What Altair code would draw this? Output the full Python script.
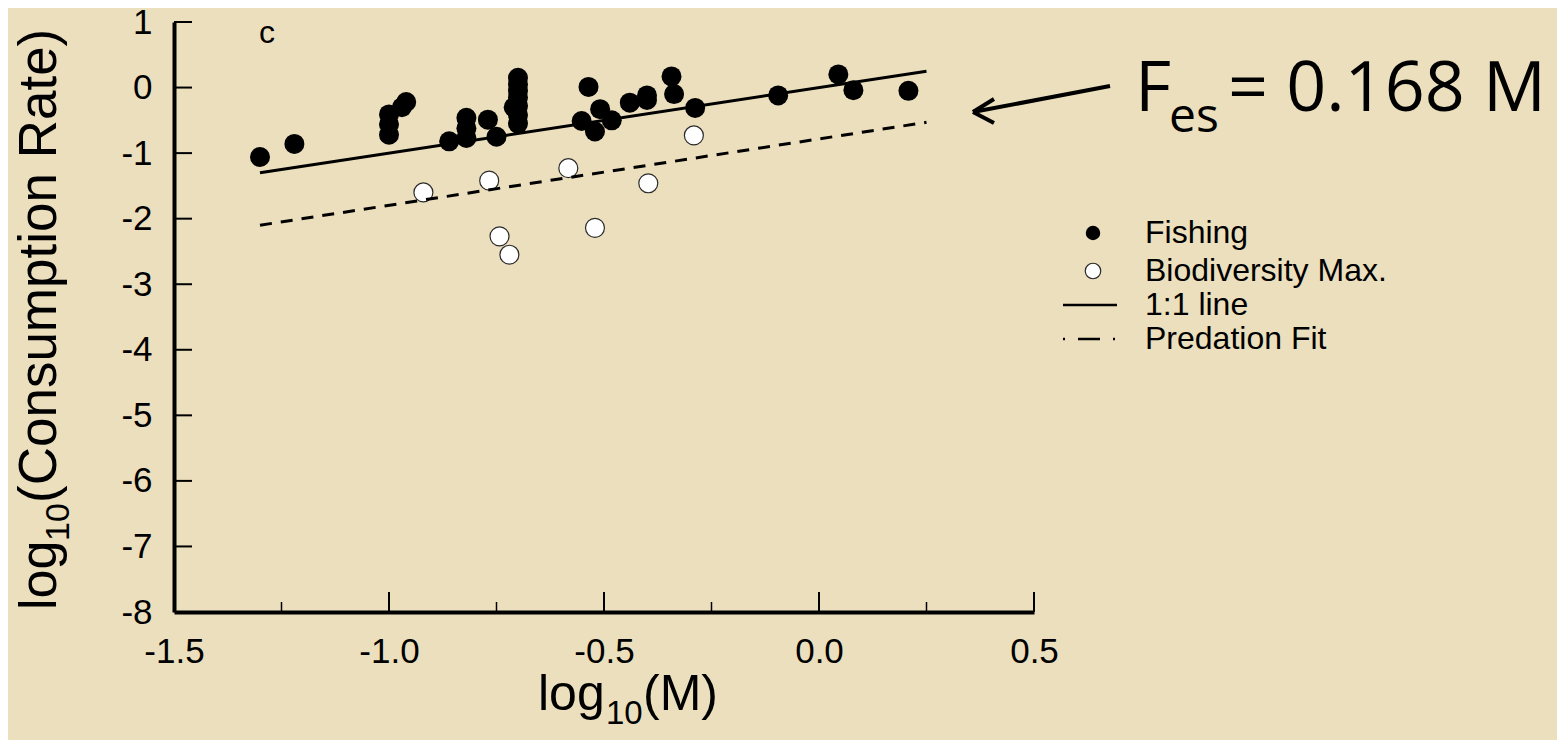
import altair as alt
import pandas as pd

# ---------------- data ----------------
fish_x = [-1.30, -1.22, -1.00, -1.00, -1.00, -0.96, -0.97, -0.86, -0.82, -0.82,
          -0.82, -0.77, -0.75, -0.71, -0.70, -0.70, -0.70, -0.70, -0.70, -0.70,
          -0.70, -0.536, -0.552, -0.521, -0.509, -0.482, -0.44, -0.40, -0.40,
          -0.343, -0.337, -0.288, -0.095, 0.045, 0.08, 0.208]
fish_y = [-1.06, -0.86, -0.41, -0.56, -0.72, -0.22, -0.30, -0.82, -0.46, -0.62,
          -0.77, -0.49, -0.75, -0.30, 0.15, 0.05, -0.05, -0.15, -0.28, -0.42,
          -0.55, 0.01, -0.51, -0.67, -0.33, -0.50, -0.23, -0.19, -0.12,
          0.17, -0.10, -0.31, -0.12, 0.20, -0.04, -0.05]
bio_x = [-0.92, -0.767, -0.743, -0.72, -0.583, -0.521, -0.397, -0.291]
bio_y = [-1.60, -1.42, -2.27, -2.55, -1.23, -2.14, -1.46, -0.73]

line_x = [-1.30, 0.25]
one_to_one_y = [-1.30, 0.25]
pred_fit_y = [-2.10, -0.53]

x_ticks = [-1.5, -1.0, -0.5, 0.0, 0.5]
x_minor = [-1.25, -0.75, -0.25, 0.25]
y_ticks = [1, 0, -1, -2, -3, -4, -5, -6, -7, -8]
legend_labels = ["Fishing", "Biodiversity Max.", "1:1 line", "Predation Fit"]
panel_label = "c"
annotation = ["F", "es", "= 0.168 M"]

# ---------------- styling ----------------
W, H = 860, 590
BG = "#EBDFBD"
FONT = "Liberation Sans"
ANN_FONT = "Open Sans"

xs = alt.Scale(domain=[-1.5, 0.5], nice=False, zero=False)
ys = alt.Scale(domain=[-8, 1], nice=False, zero=False)

minus_fix = "replace(datum.label, '\u2212', '-')"
x_axis = alt.Axis(values=x_ticks, format=".1f", labelExpr=minus_fix, tickSize=0,
                  domainWidth=4, domainColor="black", labelFontSize=35, labelFont=FONT,
                  labelColor="black", labelPadding=22, title=None, grid=False,
                  labelFlush=False, labelOverlap=False)
y_axis = alt.Axis(values=y_ticks, format="d", labelExpr=minus_fix, tickSize=0,
                  domainWidth=4, domainColor="black", labelFontSize=35, labelFont=FONT,
                  labelColor="black", labelPadding=22, title=None, grid=False,
                  labelFlush=False, labelOverlap=False)

fish = pd.DataFrame({"x": fish_x, "y": fish_y})
bio = pd.DataFrame({"x": bio_x, "y": bio_y})
l11 = pd.DataFrame({"x": line_x, "y": one_to_one_y})
lpf = pd.DataFrame({"x": line_x, "y": pred_fit_y})
one = pd.DataFrame({"k": [0]})

X = lambda f: alt.X(f, scale=xs, axis=x_axis)
Y = lambda f: alt.Y(f, scale=ys, axis=y_axis)

fish_layer = alt.Chart(fish).mark_point(filled=True, shape="circle", size=400,
                                        color="black", opacity=1).encode(
    x=X("x:Q"), y=Y("y:Q"))
bio_layer = alt.Chart(bio).mark_point(filled=True, shape="circle", size=360, fill="white",
                                      stroke="#2a2a2a", strokeWidth=1.2, opacity=1).encode(
    x=X("x:Q"), y=Y("y:Q"))
solid_layer = alt.Chart(l11).mark_line(color="black", strokeWidth=3).encode(
    x=X("x:Q"), y=Y("y:Q"))
dash_layer = alt.Chart(lpf).mark_line(color="black", strokeWidth=3, strokeDash=[12, 9]).encode(
    x=X("x:Q"), y=Y("y:Q"))

ytick_layer = alt.Chart(pd.DataFrame({"v": y_ticks[:-1]})).mark_rule(
    color="black", strokeWidth=2).encode(
    y=Y("v:Q"), x=alt.value(0), x2=alt.value(18))
xmaj_layer = alt.Chart(pd.DataFrame({"v": x_ticks[1:]})).mark_rule(
    color="black", strokeWidth=2).encode(
    x=X("v:Q"), y=alt.value(H), y2=alt.value(H - 20))
xmin_layer = alt.Chart(pd.DataFrame({"v": x_minor})).mark_rule(
    color="black", strokeWidth=1.5).encode(
    x=X("v:Q"), y=alt.value(H), y2=alt.value(H - 10))


def txt(s, x, y, size, font=FONT, angle=0, align="left", baseline="alphabetic"):
    kw = dict(font=font, fontSize=size, align=align, baseline=baseline, color="black")
    if angle:
        kw["angle"] = angle
    return alt.Chart(one).mark_text(**kw).encode(
        x=alt.value(x), y=alt.value(y), text=alt.value(s))


def seg(x1, y1, x2, y2, w=2.5, dash=None):
    kw = dict(color="black", strokeWidth=w)
    if dash:
        kw["strokeDash"] = dash
    return alt.Chart(one).mark_rule(**kw).encode(
        x=alt.value(x1), y=alt.value(y1), x2=alt.value(x2), y2=alt.value(y2))


rows = [211, 249, 283, 317]
LX, TX = 919, 971
legend = [
    alt.Chart(one).mark_point(filled=True, shape="circle", size=210, color="black",
                              opacity=1).encode(x=alt.value(LX), y=alt.value(rows[0])),
    alt.Chart(one).mark_point(filled=True, shape="circle", size=240, fill="white",
                              stroke="#2a2a2a", strokeWidth=1.2, opacity=1).encode(
        x=alt.value(LX), y=alt.value(rows[1])),
    seg(LX - 30, rows[2], LX + 24, rows[2], w=2.5),
    seg(LX - 30, rows[3], LX + 24, rows[3], w=2.5, dash=[2, 13, 22, 13]),
]
for lab, r in zip(legend_labels, rows):
    legend.append(txt(lab, TX, r, 32, baseline="middle"))

titles = [
    # x title: log10(M)
    txt("log", 364, 688, 50),
    txt("10", 432, 702, 33),
    txt("(M)", 469, 688, 50),
    # y title: log10(Consumption Rate)
    txt("log", -118, 588, 52, angle=270),
    txt("10", -105, 519, 34, angle=270),
    txt("(Consumption Rate)", -118, 481, 53, angle=270),
    # panel letter
    txt(panel_label, 93, 11, 32, align="center", baseline="middle"),
]

ann = [
    txt(annotation[0], 961, 89, 70, font=ANN_FONT),
    txt(annotation[1], 995, 110, 48, font=ANN_FONT),
    txt(annotation[2], 1054, 89, 70, font=ANN_FONT),
    seg(936, 64, 799, 90, w=4),
    seg(799, 90, 820, 77, w=4),
    seg(799, 90, 820, 101, w=4),
]

chart = alt.layer(
    fish_layer, bio_layer, solid_layer, dash_layer,
    ytick_layer, xmaj_layer, xmin_layer,
    *legend, *titles, *ann
).properties(
    width=W, height=H,
    padding={"left": 166, "top": 14, "right": 523, "bottom": 128},
    autosize=alt.AutoSizeParams(type="none"),
    background=BG,
).configure_view(stroke=None)

chart.save("out.html", embed_options={"renderer": "svg", "actions": False})
